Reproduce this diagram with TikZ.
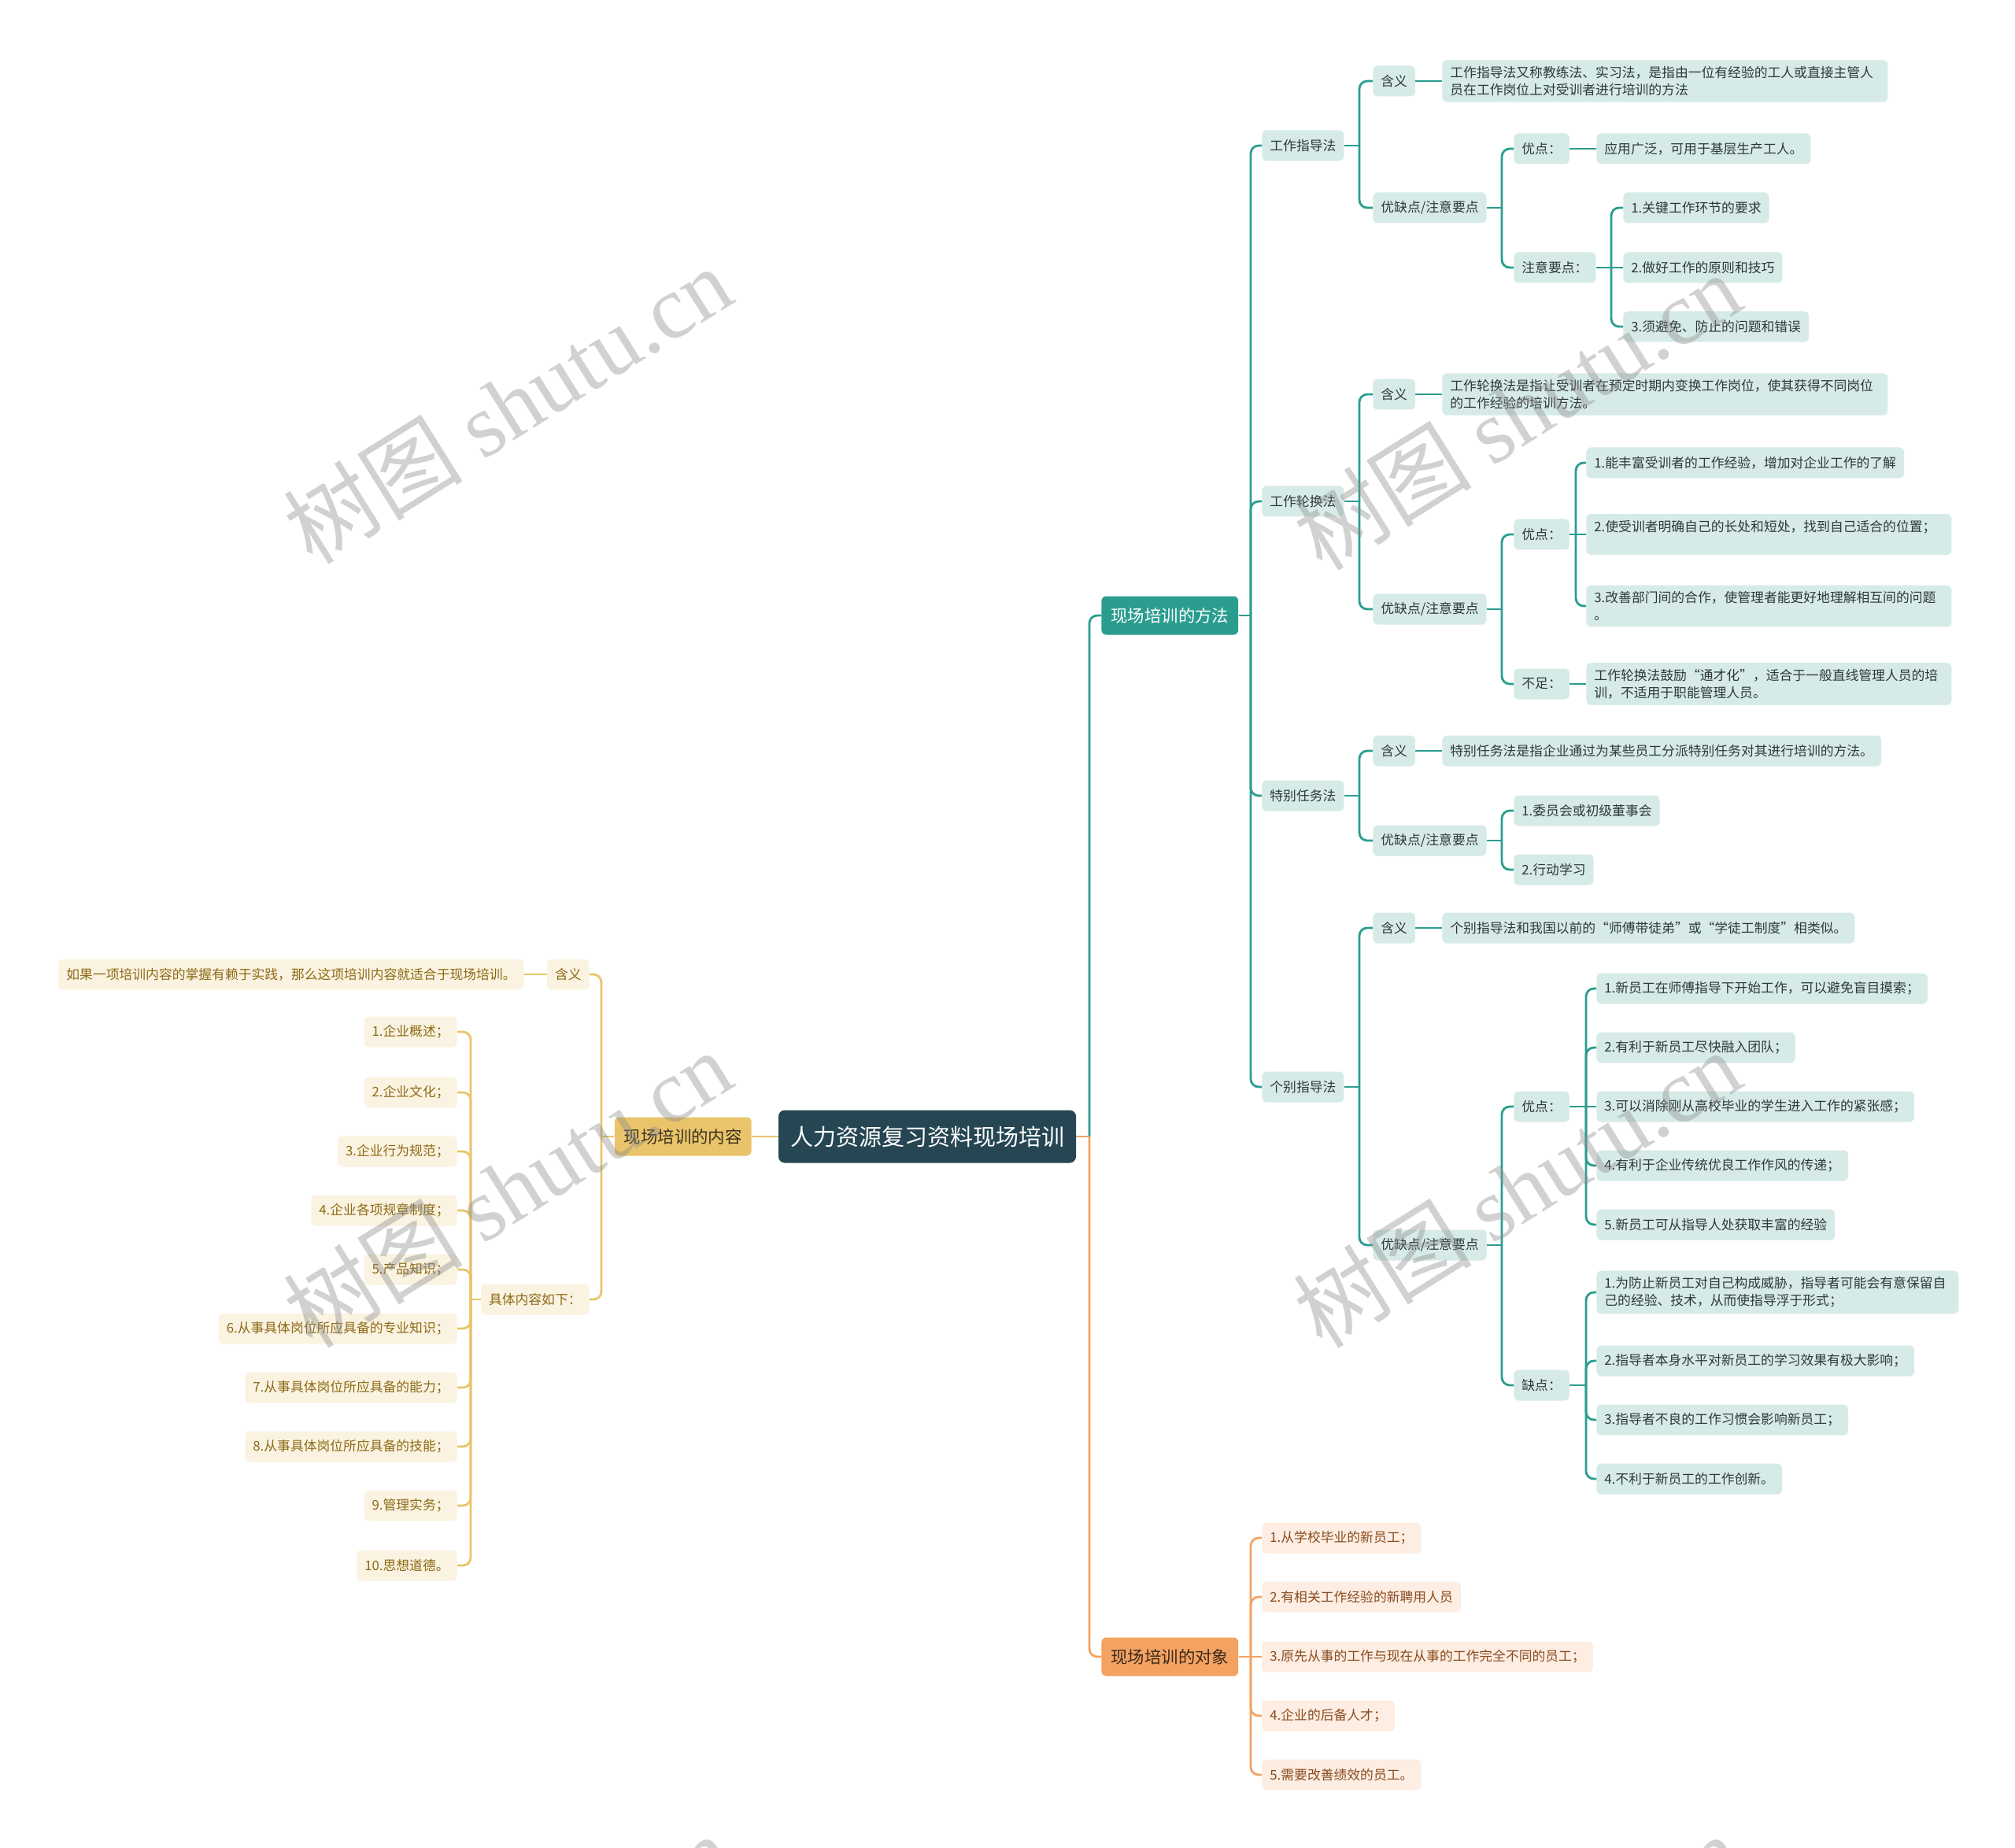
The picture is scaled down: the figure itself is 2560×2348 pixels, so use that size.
\documentclass[tikz,border=0pt]{standalone}
\usepackage{fontspec}
\setmainfont{Noto Sans CJK SC}
\newfontfamily\wmlatin{Liberation Serif}
\usetikzlibrary{calc}
\definecolor{rootc}{HTML}{264653}
\definecolor{tealc}{HTML}{2A9D8F}
\definecolor{tealL}{HTML}{D6EBE8}
\definecolor{tealT}{HTML}{2E3836}
\definecolor{yelc}{HTML}{E9C46A}
\definecolor{yelL}{HTML}{FBF3E1}
\definecolor{yelT}{HTML}{8C6A14}
\definecolor{yelD}{HTML}{3B3020}
\definecolor{orc}{HTML}{F4A261}
\definecolor{orL}{HTML}{FDEDE2}
\definecolor{orT}{HTML}{8A4B1E}
\definecolor{orD}{HTML}{3A2A1C}
\begin{document}
\begin{tikzpicture}[x=0.5pt,y=-0.5pt,
  base/.style={rounded corners=3pt, inner xsep=5pt, inner ysep=4pt, minimum height=19.5pt,
    font=\fontsize{8.4}{10.8}\selectfont, align=left},
  tnode/.style={base, fill=tealL, text=tealT, anchor=west},
  onode/.style={base, fill=orL, text=orT, anchor=west},
  ynode/.style={base, fill=yelL, text=yelT, anchor=east},
  lone/.style={rounded corners=3pt, inner xsep=6pt, minimum height=24.5pt,
    font=\fontsize{10.7}{12}\selectfont},
  tl/.style={draw=tealc, line width=1.4pt, rounded corners=5pt},
  ol/.style={draw=orc, line width=1.4pt, rounded corners=5pt},
  yl/.style={draw=yelc, line width=1.4pt, rounded corners=5pt},
  wm/.style={rotate=32, text=black!45, opacity=0.4, font=\fontsize{57}{64}\selectfont}
]
\useasboundingbox (0,0) rectangle (2560,2348);
\fill[white] (0,0) rectangle (2560,2348);

% ---------------- root and first level ----------------
\node[fill=rootc, text=white, rounded corners=4pt, minimum width=189pt, minimum height=33.5pt,
  font=\fontsize{14.5}{16}\selectfont] (root) at (1178,1444) {人力资源复习资料现场培训};
\node[lone, fill=tealc, text=white, anchor=west] (m) at (1399,782) {现场培训的方法};
\node[lone, fill=orc, text=orD, anchor=west] (o) at (1399,2105) {现场培训的对象};
\node[lone, fill=yelc, text=yelD, anchor=east] (c) at (955,1444) {现场培训的内容};

\coordinate (jr) at (1384,1444);
\draw[tl] (jr) |- (m.west);
\draw[ol] (jr) |- (o.west);
\draw[ol] (root.east) -- (jr);
\draw[yl] (root.west) -- (c.east);

% ---------------- methods branch ----------------
\node[tnode] (m1) at (1603,185) {工作指导法};
\node[tnode] (m2) at (1603,637) {工作轮换法};
\node[tnode] (m3) at (1603,1011) {特别任务法};
\node[tnode] (m4) at (1603,1381) {个别指导法};
\coordinate (jm) at (1589,782);
\draw[tl] (m.east) -- (jm);
\foreach \n in {m1,m2,m3,m4} \draw[tl] (jm) |- (\n.west);

% 工作指导法
\node[tnode] (m1a) at (1744,103) {含义};
\node[tnode, text width=273pt] (m1at) at (1832,103) {工作指导法又称教练法、实习法，是指由一位有经验的工人或直接主管人\\员在工作岗位上对受训者进行培训的方法};
\node[tnode] (m1b) at (1744,264) {优缺点/注意要点};
\coordinate (j1) at (1727,185);
\draw[tl] (m1.east) -- (j1);
\draw[tl] (j1) |- (m1a.west);
\draw[tl] (j1) |- (m1b.west);
\draw[tl] (m1a.east) -- (m1at.west);
\node[tnode] (m1b1) at (1923,189) {优点：};
\node[tnode] (m1b1t) at (2028,189) {应用广泛，可用于基层生产工人。};
\node[tnode] (m1b2) at (1923,340) {注意要点：};
\coordinate (j1b) at (1908,264);
\draw[tl] (m1b.east) -- (j1b);
\draw[tl] (j1b) |- (m1b1.west);
\draw[tl] (j1b) |- (m1b2.west);
\draw[tl] (m1b1.east) -- (m1b1t.west);
\node[tnode] (m1b2a) at (2062,264) {1.关键工作环节的要求};
\node[tnode] (m1b2b) at (2062,340) {2.做好工作的原则和技巧};
\node[tnode] (m1b2c) at (2062,415) {3.须避免、防止的问题和错误};
\coordinate (j1b2) at (2047,340);
\draw[tl] (m1b2.east) -- (j1b2);
\draw[tl] (j1b2) |- (m1b2a.west);
\draw[tl] (j1b2) -- (m1b2b.west);
\draw[tl] (j1b2) |- (m1b2c.west);

% 工作轮换法
\node[tnode] (m2a) at (1744,501) {含义};
\node[tnode, text width=273pt] (m2at) at (1832,501) {工作轮换法是指让受训者在预定时期内变换工作岗位，使其获得不同岗位\\的工作经验的培训方法。};
\node[tnode] (m2b) at (1744,774) {优缺点/注意要点};
\coordinate (j2) at (1727,637);
\draw[tl] (m2.east) -- (j2);
\draw[tl] (j2) |- (m2a.west);
\draw[tl] (j2) |- (m2b.west);
\draw[tl] (m2a.east) -- (m2at.west);
\node[tnode] (m2b1) at (1923,679) {优点：};
\node[tnode] (m2b2) at (1923,869) {不足：};
\coordinate (j2b) at (1908,774);
\draw[tl] (m2b.east) -- (j2b);
\draw[tl] (j2b) |- (m2b1.west);
\draw[tl] (j2b) |- (m2b2.west);
\node[tnode] (m2b1a) at (2015,588) {1.能丰富受训者的工作经验，增加对企业工作的了解};
\node[tnode, text width=222pt] (m2b1b) at (2015,679) {2.使受训者明确自己的长处和短处，找到自己适合的位置；\\\mbox{}};
\node[tnode, text width=222pt] (m2b1c) at (2015,770) {3.改善部门间的合作，使管理者能更好地理解相互间的问题\\。};
\coordinate (j2b1) at (2002,679);
\draw[tl] (m2b1.east) -- (j2b1);
\draw[tl] (j2b1) |- (m2b1a.west);
\draw[tl] (j2b1) -- (m2b1b.west);
\draw[tl] (j2b1) |- (m2b1c.west);
\node[tnode, text width=222pt] (m2b2t) at (2015,869) {工作轮换法鼓励“通才化”，适合于一般直线管理人员的培\\训，不适用于职能管理人员。};
\draw[tl] (m2b2.east) -- (m2b2t.west);

% 特别任务法
\node[tnode] (m3a) at (1744,954) {含义};
\node[tnode] (m3at) at (1832,954) {特别任务法是指企业通过为某些员工分派特别任务对其进行培训的方法。};
\node[tnode] (m3b) at (1744,1068) {优缺点/注意要点};
\coordinate (j3) at (1727,1011);
\draw[tl] (m3.east) -- (j3);
\draw[tl] (j3) |- (m3a.west);
\draw[tl] (j3) |- (m3b.west);
\draw[tl] (m3a.east) -- (m3at.west);
\node[tnode] (m3b1) at (1923,1030) {1.委员会或初级董事会};
\node[tnode] (m3b2) at (1923,1105) {2.行动学习};
\coordinate (j3b) at (1908,1068);
\draw[tl] (m3b.east) -- (j3b);
\draw[tl] (j3b) |- (m3b1.west);
\draw[tl] (j3b) |- (m3b2.west);

% 个别指导法
\node[tnode] (m4a) at (1744,1179) {含义};
\node[tnode] (m4at) at (1832,1179) {个别指导法和我国以前的“师傅带徒弟”或“学徒工制度”相类似。};
\node[tnode] (m4b) at (1744,1582) {优缺点/注意要点};
\coordinate (j4) at (1727,1381);
\draw[tl] (m4.east) -- (j4);
\draw[tl] (j4) |- (m4a.west);
\draw[tl] (j4) |- (m4b.west);
\draw[tl] (m4a.east) -- (m4at.west);
\node[tnode] (m4b1) at (1923,1406) {优点：};
\node[tnode] (m4b2) at (1923,1760) {缺点：};
\coordinate (j4b) at (1908,1582);
\draw[tl] (m4b.east) -- (j4b);
\draw[tl] (j4b) |- (m4b1.west);
\draw[tl] (j4b) |- (m4b2.west);
\node[tnode] (p1) at (2028,1256) {1.新员工在师傅指导下开始工作，可以避免盲目摸索；};
\node[tnode] (p2) at (2028,1331) {2.有利于新员工尽快融入团队；};
\node[tnode] (p3) at (2028,1406) {3.可以消除刚从高校毕业的学生进入工作的紧张感；};
\node[tnode] (p4) at (2028,1481) {4.有利于企业传统优良工作作风的传递；};
\node[tnode] (p5) at (2028,1556) {5.新员工可从指导人处获取丰富的经验};
\coordinate (j4b1) at (2015,1406);
\draw[tl] (m4b1.east) -- (j4b1);
\draw[tl] (j4b1) |- (p1.west);
\draw[tl] (j4b1) |- (p2.west);
\draw[tl] (j4b1) -- (p3.west);
\draw[tl] (j4b1) |- (p4.west);
\draw[tl] (j4b1) |- (p5.west);
\node[tnode, text width=220pt] (q1) at (2028,1642) {1.为防止新员工对自己构成威胁，指导者可能会有意保留自\\己的经验、技术，从而使指导浮于形式；};
\node[tnode] (q2) at (2028,1729) {2.指导者本身水平对新员工的学习效果有极大影响；};
\node[tnode] (q3) at (2028,1804) {3.指导者不良的工作习惯会影响新员工；};
\node[tnode] (q4) at (2028,1879) {4.不利于新员工的工作创新。};
\coordinate (j4b2) at (2015,1760);
\draw[tl] (m4b2.east) -- (j4b2);
\foreach \n in {q1,q2,q3,q4} \draw[tl] (j4b2) |- (\n.west);

% ---------------- targets branch ----------------
\node[onode] (o1) at (1603,1954) {1.从学校毕业的新员工；};
\node[onode] (o2) at (1603,2029) {2.有相关工作经验的新聘用人员};
\node[onode] (o3) at (1603,2105) {3.原先从事的工作与现在从事的工作完全不同的员工；};
\node[onode] (o4) at (1603,2180) {4.企业的后备人才；};
\node[onode] (o5) at (1603,2255) {5.需要改善绩效的员工。};
\coordinate (jo) at (1589,2105);
\draw[ol] (o.east) -- (jo);
\draw[ol] (jo) |- (o1.west);
\draw[ol] (jo) |- (o2.west);
\draw[ol] (jo) -- (o3.west);
\draw[ol] (jo) |- (o4.west);
\draw[ol] (jo) |- (o5.west);

% ---------------- content branch ----------------
\node[ynode] (ca) at (749,1238) {含义};
\node[ynode] (cat) at (666,1238) {如果一项培训内容的掌握有赖于实践，那么这项培训内容就适合于现场培训。};
\node[ynode] (cb) at (749,1651) {具体内容如下：};
\coordinate (jc) at (764,1444);
\draw[yl] (c.west) -- (jc);
\draw[yl] (jc) |- (ca.east);
\draw[yl] (jc) |- (cb.east);
\draw[yl] (ca.west) -- (cat.east);
\node[ynode] (k1) at (581,1311) {1.企业概述；};
\node[ynode] (k2) at (581,1388) {2.企业文化；};
\node[ynode] (k3) at (581,1463) {3.企业行为规范；};
\node[ynode] (k4) at (581,1538) {4.企业各项规章制度；};
\node[ynode] (k5) at (581,1613) {5.产品知识；};
\node[ynode] (k6) at (581,1688) {6.从事具体岗位所应具备的专业知识；};
\node[ynode] (k7) at (581,1763) {7.从事具体岗位所应具备的能力；};
\node[ynode] (k8) at (581,1838) {8.从事具体岗位所应具备的技能；};
\node[ynode] (k9) at (581,1913) {9.管理实务；};
\node[ynode] (k10) at (581,1989) {10.思想道德。};
\coordinate (jcb) at (598,1651);
\draw[yl] (cb.west) -- (jcb);
\foreach \n in {k1,k2,k3,k4,k5,k6,k7,k8,k9,k10} \draw[yl] (jcb) |- (\n.east);

% ---------------- watermarks ----------------
\node[wm] (wm1) at (645,514) {树图 {\wmlatin shutu.cn}};
\node[wm] (wm2) at (1927,522) {树图 {\wmlatin shutu.cn}};
\node[wm] (wm3) at (645,1510) {树图 {\wmlatin shutu.cn}};
\node[wm] (wm4) at (1927,1510) {树图 {\wmlatin shutu.cn}};
\node[wm] (wm5) at (645,2506) {树图 {\wmlatin shutu.cn}};
\node[wm] (wm6) at (1927,2506) {树图 {\wmlatin shutu.cn}};
\end{tikzpicture}
\end{document}
